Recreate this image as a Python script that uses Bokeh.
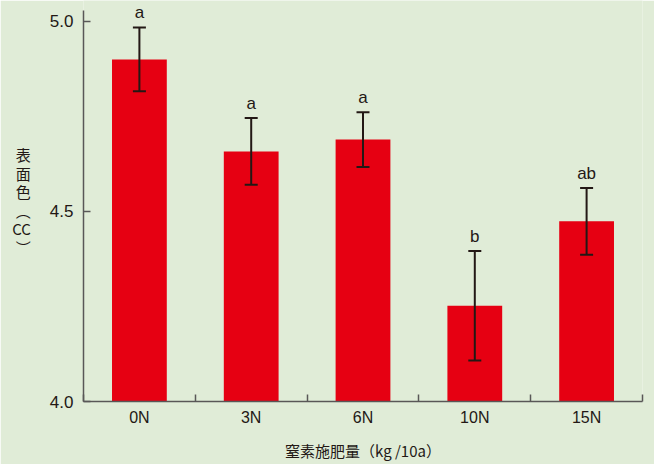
from bokeh.plotting import figure
from bokeh.models import ColumnDataSource, Whisker, TeeHead, FixedTicker, Range1d
from bokeh.core.properties import value
from bokeh.embed import file_html
from bokeh.resources import INLINE

categories = ["0N", "3N", "6N", "10N", "15N"]
means = [4.90, 4.658, 4.689, 4.252, 4.474]
errors = [0.084, 0.088, 0.072, 0.144, 0.088]
letters = ["a", "a", "a", "b", "ab"]
y_ticks = [4.0, 4.5, 5.0]

BG = "#e0ecd7"
RED = "#e60012"
INK = "#231815"
AXIS = "#595757"
LATIN = "Liberation Sans"
CJK = "Noto Sans CJK JP"

xs = [i + 0.5 for i in range(len(categories))]
src = ColumnDataSource(dict(
    x=xs, top=means,
    upper=[m + e for m, e in zip(means, errors)],
    lower=[m - e for m, e in zip(means, errors)],
    letter=letters,
))

p = figure(width=654, height=464, output_backend="svg", toolbar_location=None,
           x_range=Range1d(0, len(categories)), y_range=Range1d(4.0, 5.055),
           min_border_left=83, min_border_right=12, min_border_top=0, min_border_bottom=63)
p.background_fill_color = BG
p.border_fill_color = BG
p.outline_line_color = None
p.grid.visible = False

p.vbar(x="x", top="top", bottom=4.0, width=0.49, source=src,
       fill_color=RED, line_color=None)

w = Whisker(base="x", upper="upper", lower="lower", source=src,
            line_color=INK, line_width=2, level="overlay",
            upper_head=TeeHead(size=13, line_color=INK, line_width=2),
            lower_head=TeeHead(size=13, line_color=INK, line_width=2))
p.add_layout(w)

p.text(x="x", y="upper", text="letter", source=src, text_align="center",
       text_baseline="bottom", y_offset=-5, text_font=value(LATIN),
       text_font_size="17px", text_color=INK)

# x axis
xa = p.xaxis[0]
xa.ticker = FixedTicker(ticks=xs, minor_ticks=list(range(len(categories) + 1)))
xa.major_label_overrides = {x: c for x, c in zip(xs, categories)}
xa.major_tick_line_color = None
xa.minor_tick_in = 7
xa.minor_tick_out = 0
xa.minor_tick_line_color = AXIS
xa.minor_tick_line_width = 1.5
xa.axis_line_color = AXIS
xa.axis_line_width = 1.5
xa.major_label_text_font = LATIN
xa.major_label_text_font_size = "16px"
xa.major_label_text_color = INK
xa.major_label_standoff = 1
xa.axis_label = "窒素施肥量（kg /10a）"
xa.axis_label_text_font = CJK
xa.axis_label_text_font_size = "15px"
xa.axis_label_text_font_style = "normal"
xa.axis_label_text_color = INK
xa.axis_label_standoff = 11

# y axis
ya = p.yaxis[0]
ya.bounds = (4.0, 5.029)
ya.ticker = FixedTicker(ticks=y_ticks, minor_ticks=[])
ya.major_label_overrides = {t: f"{t:.1f}" for t in y_ticks}
ya.major_tick_in = 7
ya.major_tick_out = 0
ya.major_tick_line_color = AXIS
ya.major_tick_line_width = 1.5
ya.axis_line_color = AXIS
ya.axis_line_width = 1.5
ya.major_label_text_font = LATIN
ya.major_label_text_font_size = "17px"
ya.major_label_text_color = INK
ya.major_label_standoff = 10
ya.axis_label = "表\n面\n色\n︵\nCC\n︶"
ya.axis_label_orientation = "horizontal"
ya.axis_label_text_font = CJK
ya.axis_label_text_font_size = "15px"
ya.axis_label_text_font_style = "normal"
ya.axis_label_text_color = INK
ya.axis_label_text_line_height = 0.88
ya.axis_label_standoff = 16

open("out.html", "w").write(file_html(p, INLINE))
